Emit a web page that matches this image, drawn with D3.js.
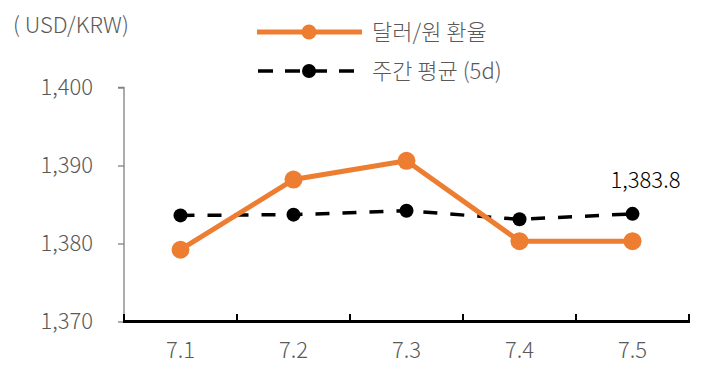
<!DOCTYPE html>
<html><head><meta charset="utf-8">
<script src="https://cdn.jsdelivr.net/npm/d3@7"></script>
<style>body{margin:0;background:#fff}svg{display:block}text{font-family:"Noto Sans CJK KR","Noto Sans",sans-serif;font-weight:300}</style>
</head><body><svg id="c" width="708" height="382"></svg>
<script>
const categories = ["7.1","7.2","7.3","7.4","7.5"];
const rateValues = [1379.2, 1388.2, 1390.6, 1380.3, 1380.3];
const avgValues = [1383.6, 1383.7, 1384.2, 1383.1, 1383.8];
const yTicks = [1370, 1380, 1390, 1400];
const seriesNames = ["달러/원 환율", "주간 평균 (5d)"];
const unitLabel = "( USD/KRW)";
const lastLabel = "1,383.8";

const svg = d3.select("#c");
const x = d3.scaleBand().domain(categories).range([124, 689]);
const y = d3.scaleLinear().domain([1370, 1400]).range([321.5, 87.5]);
const fmt = d3.format(",");
const gray = "#595959";
const FS = 22;

// y axis
const ya = svg.append("g").attr("transform","translate(124,0)")
  .call(d3.axisLeft(y).tickValues(yTicks).tickFormat(fmt).tickSize(6).tickPadding(25));
ya.select(".domain").attr("stroke","#808080").attr("stroke-width",1.3).attr("d","M-6,87.5H0V321.5");
ya.selectAll(".tick line").attr("stroke","#808080").attr("stroke-width",1.3);
ya.selectAll(".tick text").attr("fill",gray).attr("font-size",FS).attr("font-family","'Noto Sans CJK KR',sans-serif");

// x axis
const xa = svg.append("g").attr("transform","translate(0,321.5)")
  .call(d3.axisBottom(x).tickSize(0).tickPadding(21));
xa.select(".domain").remove();
xa.selectAll(".tick text").attr("fill",gray).attr("font-size",FS).attr("font-family","'Noto Sans CJK KR',sans-serif");
const edges = categories.map(c=>x(c)).concat([x.range()[1]]);
svg.append("line").attr("x1",123).attr("x2",690).attr("y1",321.5).attr("y2",321.5).attr("stroke","#000").attr("stroke-width",3);
svg.selectAll(".xt").data(edges).enter().append("line")
  .attr("x1",d=>d).attr("x2",d=>d).attr("y1",321.5).attr("y2",314).attr("stroke","#000").attr("stroke-width",2);

const cx = c => x(c) + x.bandwidth()/2;

// avg dashed line
svg.append("path").datum(avgValues)
  .attr("d", d3.line().x((d,i)=>cx(categories[i])).y(d=>y(d)))
  .attr("fill","none").attr("stroke","#000").attr("stroke-width",3.5).attr("stroke-dasharray","14,13");
svg.selectAll(".am").data(avgValues).enter().append("circle")
  .attr("cx",(d,i)=>cx(categories[i])).attr("cy",d=>y(d)).attr("r",7).attr("fill","#000");

// rate line
const orange = "#ED7D31";
svg.append("path").datum(rateValues)
  .attr("d", d3.line().x((d,i)=>cx(categories[i])).y(d=>y(d)))
  .attr("fill","none").attr("stroke",orange).attr("stroke-width",5).attr("stroke-linejoin","round");
svg.selectAll(".rm").data(rateValues).enter().append("circle")
  .attr("cx",(d,i)=>cx(categories[i])).attr("cy",d=>y(d)).attr("r",9).attr("fill",orange);

// annotation
svg.append("text").attr("x",cx(categories[4])+13).attr("y",y(avgValues[4])-26)
  .attr("text-anchor","middle").attr("font-size",FS).attr("fill","#000").text(lastLabel);

// unit label
svg.append("text").attr("x",13).attr("y",33).attr("font-size",FS).attr("fill",gray).text(unitLabel);

// legend
const lg = svg.append("g");
lg.append("line").attr("x1",257).attr("x2",362).attr("y1",32).attr("y2",32).attr("stroke",orange).attr("stroke-width",5);
lg.append("circle").attr("cx",309).attr("cy",32).attr("r",7.5).attr("fill",orange);
lg.append("text").attr("x",372).attr("y",40).attr("font-size",FS).attr("fill",gray).text(seriesNames[0]);
lg.append("line").attr("x1",258).attr("x2",362).attr("y1",71).attr("y2",71).attr("stroke","#000").attr("stroke-width",3.5).attr("stroke-dasharray","15,12");
lg.append("circle").attr("cx",309).attr("cy",71).attr("r",7).attr("fill","#000");
lg.append("text").attr("x",372).attr("y",79).attr("font-size",FS).attr("fill",gray).text(seriesNames[1]);
</script></body></html>
